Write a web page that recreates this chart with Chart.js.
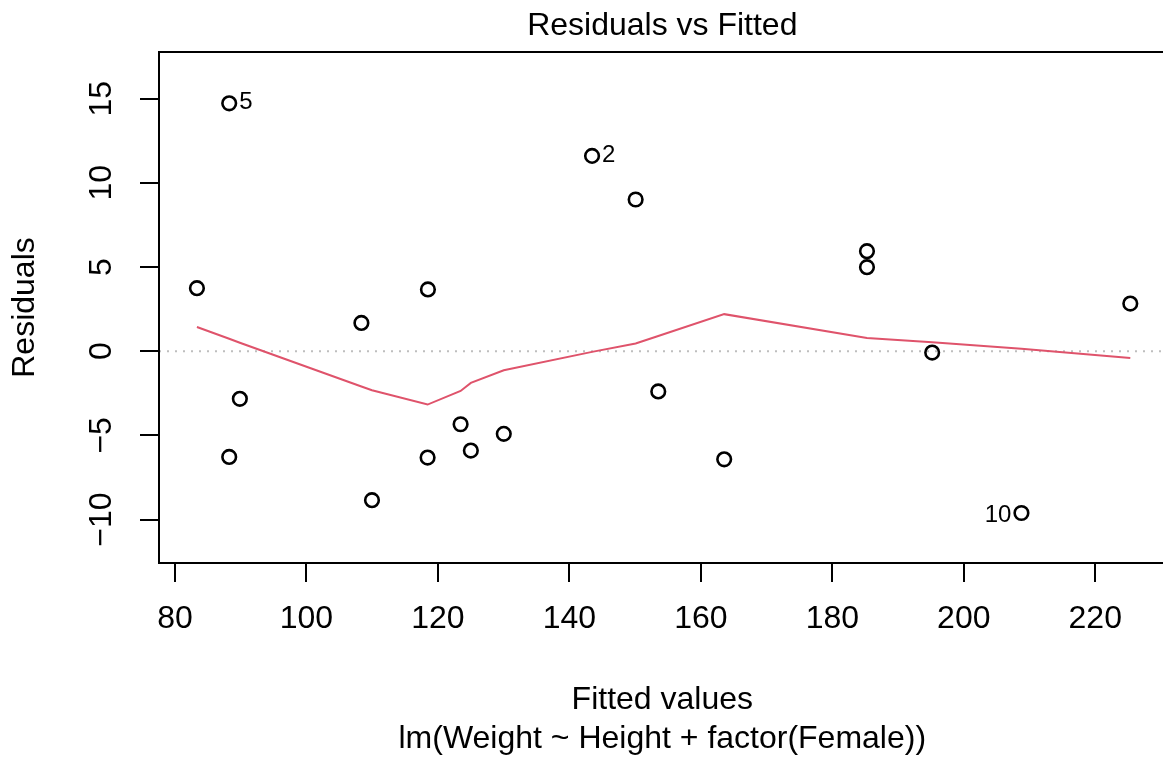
<!DOCTYPE html>
<html>
<head>
<meta charset="utf-8">
<title>Residuals vs Fitted</title>
<script src="https://cdn.jsdelivr.net/npm/chart.js@4.4.1/dist/chart.umd.min.js"></script>
<style>
  html, body { margin: 0; padding: 0; background: #fff; overflow: hidden; }
  #wrap { width: 1175px; height: 758px; }
</style>
</head>
<body>
<div id="wrap"><canvas id="plot" width="1175" height="758"></canvas></div>
<script>
// fitted values and residuals, one per observation
const fitted = [83.34, 88.25, 88.25, 89.87, 108.36, 109.97, 118.48, 118.43, 123.45, 125.01,
                130.02, 143.45, 150.08, 153.52, 163.55, 185.27, 185.27, 195.19, 208.77, 225.33];
const resid = [3.74, 14.72, -6.28, -2.83, 1.68, -8.85, 3.67, -6.32, -4.34, -5.90,
               -4.91, 11.60, 9.01, -2.39, -6.42, 5.94, 4.99, -0.08, -9.61, 2.83];

// the three most extreme residuals get their row name printed
const idRows = [1, 11, 18];
const idLabels = ['5', '2', '10'];

// lowess smooth of residuals on fitted
const smoothX = [83.34, 88.25, 88.25, 89.87, 108.36, 109.97, 118.43, 118.48, 123.45, 125.01,
                 130.02, 143.45, 150.08, 153.52, 163.55, 185.27, 185.27, 195.19, 208.77, 225.33];
const smoothY = [1.44, 0.74, 0.74, 0.50, -2.10, -2.32, -3.17, -3.17, -2.36, -1.88,
                 -1.13, -0.04, 0.46, 0.90, 2.20, 0.79, 0.79, 0.53, 0.15, -0.40];

const xTicks = [80, 100, 120, 140, 160, 180, 200, 220];
const yTicks = [-10, -5, 0, 5, 10, 15];
const yTickLabels = ['\u221210', '\u22125', '0', '5', '10', '15'];

const xMin = 77.57, xMax = 230.7;
const yMin = -12.58, yMax = 17.77;

const FONT = "'Liberation Sans', Arial, Helvetica, sans-serif";
Chart.defaults.font.family = FONT;
Chart.defaults.color = '#000';

// bits of base R graphics that chart.js doesn't do by itself
const rBits = {
  id: 'rBits',
  beforeDatasetsDraw(chart) {
    const { ctx, chartArea, scales } = chart;
    const y0 = scales.y.getPixelForValue(0);
    ctx.save();
    ctx.strokeStyle = '#bebebe';
    ctx.lineWidth = 2;
    ctx.setLineDash([2, 6]);
    ctx.beginPath();
    ctx.moveTo(chartArea.left, y0);
    ctx.lineTo(chartArea.right, y0);
    ctx.stroke();
    ctx.restore();
  },
  afterDatasetsDraw(chart) {
    const { ctx, chartArea } = chart;
    ctx.save();
    ctx.strokeStyle = '#000';
    ctx.lineWidth = 2;
    ctx.strokeRect(chartArea.left, chartArea.top,
                   chartArea.right - chartArea.left, chartArea.bottom - chartArea.top);

    // row names next to the extreme points
    const pts = chart.getDatasetMeta(1).data;
    const mid = (Math.min(...fitted) + Math.max(...fitted)) / 2;
    ctx.font = '24px ' + FONT;
    ctx.fillStyle = '#000';
    ctx.textBaseline = 'middle';
    idRows.forEach((r, i) => {
      const p = pts[r];
      if (fitted[r] > mid) {
        ctx.textAlign = 'right';
        ctx.fillText(idLabels[i], p.x - 10, p.y + 2);
      } else {
        ctx.textAlign = 'left';
        ctx.fillText(idLabels[i], p.x + 10, p.y - 1);
      }
    });
    ctx.restore();
  },
  afterDraw(chart) {
    // y tick labels run parallel to the axis, as in R (las = 0)
    const { ctx, chartArea, scales } = chart;
    ctx.save();
    ctx.font = '32px ' + FONT;
    ctx.fillStyle = '#000';
    ctx.textAlign = 'center';
    ctx.textBaseline = 'middle';
    yTicks.forEach((v, i) => {
      ctx.save();
      ctx.translate(chartArea.left - 57, scales.y.getPixelForValue(v));
      ctx.rotate(-Math.PI / 2);
      ctx.fillText(yTickLabels[i], 0, 0);
      ctx.restore();
    });
    ctx.restore();
  }
};

new Chart(document.getElementById('plot'), {
  type: 'scatter',
  data: {
    datasets: [
      {
        label: 'lowess',
        data: smoothX.map((x, i) => ({ x: x, y: smoothY[i] })),
        showLine: true,
        borderColor: '#DF536B',
        borderWidth: 2,
        pointRadius: 0,
        tension: 0,
        fill: false,
        order: 1
      },
      {
        label: 'residuals',
        data: fitted.map((x, i) => ({ x: x, y: resid[i] })),
        pointStyle: 'circle',
        pointRadius: 6.8,
        pointBorderWidth: 2.6,
        borderColor: '#000',
        backgroundColor: 'rgba(0,0,0,0)',
        order: 2
      }
    ]
  },
  options: {
    responsive: false,
    animation: false,
    events: [],
    layout: { padding: { top: 0, right: 7, bottom: 0, left: 0 } },
    plugins: {
      legend: { display: false },
      tooltip: { enabled: false },
      title: {
        display: true,
        text: 'Residuals vs Fitted',
        fullSize: false,
        color: '#000',
        font: { size: 32, weight: 'normal', lineHeight: 1.2 },
        padding: { top: 7, bottom: 6.6 }
      }
    },
    scales: {
      x: {
        type: 'linear',
        min: xMin,
        max: xMax,
        afterBuildTicks: s => { s.ticks = xTicks.map(v => ({ value: v })); },
        afterFit: s => { s.height = 195; },
        grid: { drawOnChartArea: false, color: '#000', lineWidth: 2, tickLength: 19 },
        border: { display: false },
        ticks: { font: { size: 32 }, padding: 18, maxRotation: 0, autoSkip: false,
                 callback: v => String(v) },
        title: {
          display: true,
          text: ['Fitted values', 'lm(Weight ~ Height + factor(Female))'],
          font: { size: 32, lineHeight: 1.2 },
          padding: { top: 0, bottom: 0 }
        }
      },
      y: {
        type: 'linear',
        min: yMin,
        max: yMax,
        afterBuildTicks: s => { s.ticks = yTicks.map(v => ({ value: v })); },
        afterFit: s => { s.width = 159; },
        grid: { drawOnChartArea: false, color: '#000', lineWidth: 2, tickLength: 19 },
        border: { display: false },
        ticks: { display: false },
        title: {
          display: true,
          text: 'Residuals',
          font: { size: 32, lineHeight: 1.2 },
          padding: { top: 6, bottom: 0 }
        }
      }
    }
  },
  plugins: [rBits]
});
</script>
</body>
</html>
